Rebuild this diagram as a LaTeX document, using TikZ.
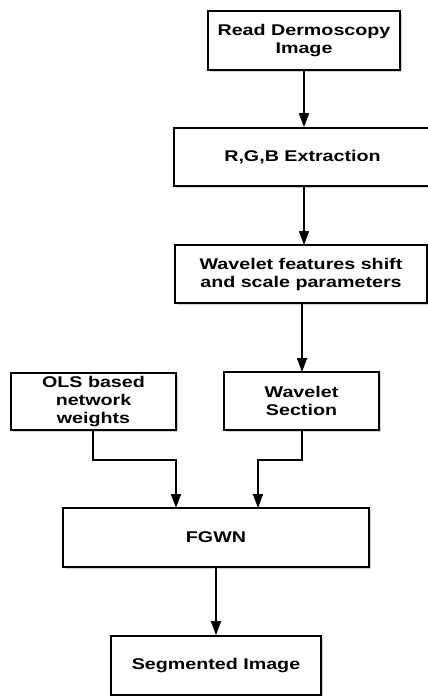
\documentclass[tikz,border=0pt]{standalone}
\usepackage{fontspec}
\setmainfont{Liberation Sans}[FakeStretch=1.27]
\usetikzlibrary{arrows.meta,shadows}

\begin{document}
\begin{tikzpicture}[x=1pt,y=-1pt,line width=1.7pt,
	-{Triangle[length=14pt,width=10pt]}]
	\tikzstyle{stepbox}=[draw,-,line width=1.7pt,fill=white,align=center,
		font=\fontsize{15.5}{18}\selectfont\bfseries,inner sep=0pt,
		drop shadow={shadow xshift=1.5pt,shadow yshift=-1.5pt,opacity=0.35}]
	\useasboundingbox (0,0) rectangle (428,696);
	
	% Draw the processing boxes
	\node[stepbox, minimum width=192pt, minimum height=59pt] (read) at (304,40.5) {Read Dermoscopy\\Image};
	\node[stepbox, minimum width=257pt, minimum height=58pt] (rgb) at (302.5,157) {R,G,B Extraction};
	\node[stepbox, minimum width=252pt, minimum height=58pt] (feat) at (301,274) {Wavelet features shift\\and scale parameters};
	\node[stepbox, minimum width=165pt, minimum height=57pt] (ols) at (93.5,401.5) {OLS based\\network\\weights};
	\node[stepbox, minimum width=155pt, minimum height=58pt] (sect) at (301.5,401) {Wavelet\\Section};
	\node[stepbox, minimum width=306pt, minimum height=59pt] (fgwn) at (216,537.5) {FGWN};
	\node[stepbox, minimum width=210pt, minimum height=59pt] (seg) at (216,665.5) {Segmented Image};
	
	% Bend points of the two joining lines
	\coordinate (olsbend) at (93,460);
	\coordinate (sectbend) at (302,460);
	
	% Connect the boxes
	\draw (read.south) -- (read.south |- rgb.north);
	\draw (304,186) -- (304,245);
	\draw (302,303) -- (302,372);
	\draw (olsbend |- ols.south) -- (olsbend) -- (olsbend -| 176,0) -- (176,508);
	\draw (sectbend |- sect.south) -- (sectbend) -- (sectbend -| 258,0) -- (258,508);
	\draw (fgwn.south) -- (seg.north);
	
\end{tikzpicture}
\end{document}
